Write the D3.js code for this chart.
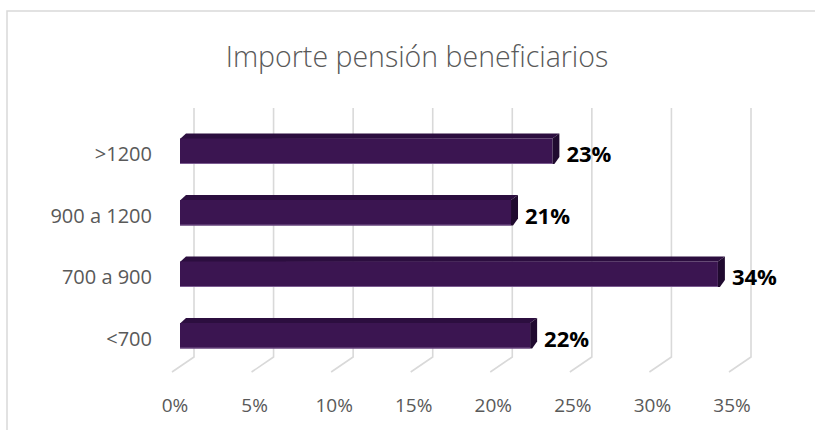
<!DOCTYPE html>
<html>
<head>
<meta charset="utf-8">
<script src="https://cdn.jsdelivr.net/npm/d3@7"></script>
<style>
  html, body { margin: 0; background: #fff; overflow: hidden; }
  svg { display: block; }
</style>
</head>
<body>
<svg id="chart"></svg>
<script>
// importe pension chart

var categories = ['>1200', '900 a 1200', '700 a 900', '<700'];
var values = [23.4, 20.8, 33.8, 22.0];
var ticks = [0, 5, 10, 15, 20, 25, 30, 35];
var title = 'Importe pensión beneficiarios';

var width = 815, height = 430;
var depthX = 22, depthY = 15;      // floor depth of the 3d box
var barDx = 7, barDy = 5;          // bar thickness in depth
var barShiftX = 14, barShiftY = 9.5; // where bar front face sits from the back wall

var svg = d3.select('svg#chart')
  .attr('width', width)
  .attr('height', height)
  .style('font-family', '"Open Sans", Lato, sans-serif');

// chart frame, only top and left edges are inside the picture
svg.append('path')
  .attr('d', 'M' + width + ',11H7V' + height)
  .attr('fill', 'none')
  .attr('stroke', '#d9d9d9')
  .attr('stroke-width', 1.5);

svg.append('text')
  .attr('x', 417).attr('y', 67)
  .attr('text-anchor', 'middle')
  .style('font-size', '28.5px')
  .style('font-weight', 300)
  .style('fill', '#595959')
  .text(title);

// x scale on the back wall
var x = d3.scaleLinear().domain([0, 35]).range([194, 751]);
var y = d3.scaleBand().domain(categories).range([111, 357]).padding(0);
var wallTop = 108, wallBottom = 357;

var grid = svg.append('g').attr('class', 'grid');
grid.selectAll('path')
  .data(ticks)
  .enter().append('path')
  .attr('d', d => 'M' + x(d) + ',' + wallTop + 'V' + wallBottom +
    'L' + (x(d) - depthX) + ',' + (wallBottom + depthY))
  .attr('fill', 'none')
  .attr('stroke', '#d9d9d9')
  .attr('stroke-width', 1.6);

svg.append('g')
  .selectAll('text')
  .data(ticks)
  .enter().append('text')
  .attr('x', d => x(d) - depthX + 3)
  .attr('y', 412)
  .attr('text-anchor', 'middle')
  .style('font-size', '19px')
  .style('fill', '#595959')
  .text(d => d + '%');

// bars
var barH = 25.5;
var bars = svg.append('g').selectAll('g')
  .data(categories)
  .enter().append('g');

function fx(v){ return x(v) - barShiftX; }
function fyc(c){ return y(c) + y.bandwidth() / 2 + barShiftY; }

bars.append('path') // top face
  .attr('d', (c, i) => {
    var x0 = fx(0), x1 = fx(values[i]), yt = fyc(c) - barH / 2;
    return 'M' + x0 + ',' + (yt + 0.5) + 'L' + (x0 + barDx - 1) + ',' + (yt - barDy) +
      'L' + (x1 + barDx) + ',' + (yt - barDy) + 'L' + x1 + ',' + yt + 'Z';
  })
  .attr('fill', '#2c0e3f');

bars.append('path') // side face
  .attr('d', (c, i) => {
    var x1 = fx(values[i]), yt = fyc(c) - barH / 2, yb = fyc(c) + barH / 2;
    return 'M' + x1 + ',' + yt + 'L' + (x1 + barDx) + ',' + (yt - barDy) +
      'L' + (x1 + barDx) + ',' + (yb - barDy - 2) + 'L' + (x1 + 2) + ',' + yb + 'L' + x1 + ',' + yb + 'Z';
  })
  .attr('fill', '#200a2f');

bars.append('rect') // front face
  .attr('x', fx(0))
  .attr('y', c => fyc(c) - barH / 2)
  .attr('width', (c, i) => fx(values[i]) - fx(0))
  .attr('height', barH)
  .attr('fill', '#3b1551');

bars.append('line')
  .attr('x1', fx(0))
  .attr('x2', (c, i) => fx(values[i]))
  .attr('y1', c => fyc(c) + barH / 2 - 0.5)
  .attr('y2', c => fyc(c) + barH / 2 - 0.5)
  .attr('stroke', '#7a5a90')
  .attr('stroke-width', 1);

// value labels
bars.append('text')
  .attr('x', (c, i) => fx(values[i]) + barDx + 7)
  .attr('y', c => fyc(c) + 11)
  .style('font-size', '22px')
  .style('font-weight', 'bold')
  .style('fill', '#000')
  .text((c, i) => Math.round(values[i]) + '%');

// category labels
svg.append('g')
  .selectAll('text')
  .data(categories)
  .enter().append('text')
  .attr('x', 152)
  .attr('y', c => fyc(c) + 10)
  .attr('text-anchor', 'end')
  .style('font-size', '20px')
  .style('fill', '#595959')
  .text(c => c);
</script>
</body>
</html>
